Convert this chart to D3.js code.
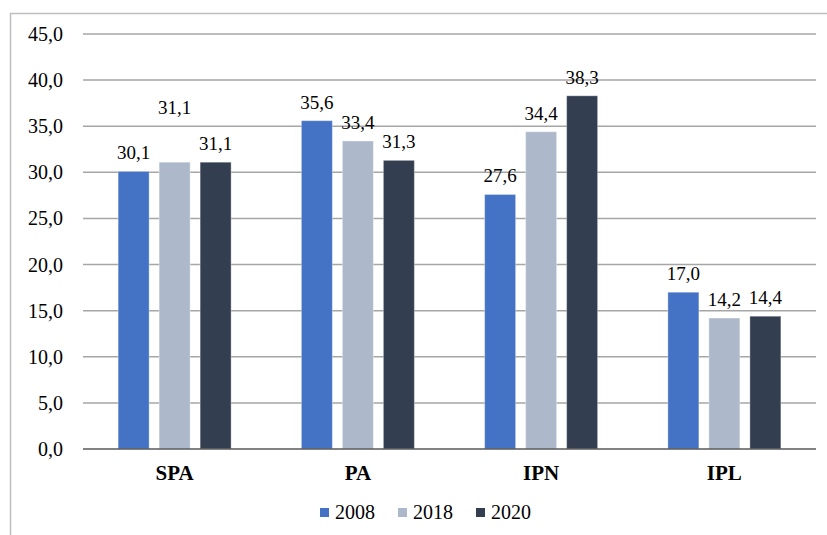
<!DOCTYPE html>
<html>
<head>
<meta charset="utf-8">
<script src="https://cdn.jsdelivr.net/npm/d3@7/dist/d3.min.js"></script>
<style>
  html, body { margin: 0; padding: 0; background: #fff; }
  svg { display: block; }
  text { font-family: "Liberation Serif", "Times New Roman", serif; fill: #000; }
</style>
</head>
<body>
<svg id="chart" width="827" height="535"></svg>
<script>
const categories = ["SPA", "PA", "IPN", "IPL"];
const seriesNames = ["2008", "2018", "2020"];
const values2008 = [30.1, 35.6, 27.6, 17.0];
const values2018 = [31.1, 33.4, 34.4, 14.2];
const values2020 = [31.1, 31.3, 38.3, 14.4];
const yTicks = [0, 5, 10, 15, 20, 25, 30, 35, 40, 45];
const colors = ["#4472C4", "#ADB9CA", "#333F50"];

const seriesValues = [values2008, values2018, values2020];
const fmt = v => v.toFixed(1).replace(".", ",");

const svg = d3.select("#chart");

// chart border (clipped by the picture on right and bottom)
svg.append("rect")
  .attr("x", 10.5).attr("y", 13.5)
  .attr("width", 840).attr("height", 540)
  .attr("fill", "none").attr("stroke", "#bfbfbf").attr("stroke-width", 1.5);

const plot = { left: 83, right: 816, top: 34, bottom: 449 };

const x = d3.scaleBand().domain(categories).range([plot.left, plot.right]).paddingInner(0).paddingOuter(0);
const xs = d3.scaleBand().domain(seriesNames).range([0, x.bandwidth()]).paddingInner(0.244).paddingOuter(0.857);
const y = d3.scaleLinear().domain([0, 45]).range([plot.bottom, plot.top]);

// gridlines
svg.append("g").selectAll("line").data(yTicks.filter(t => t > 0)).join("line")
  .attr("x1", plot.left).attr("x2", plot.right)
  .attr("y1", d => y(d)).attr("y2", d => y(d))
  .attr("stroke", "#a6a6a6").attr("stroke-width", 1.5);

// y tick labels
svg.append("g").selectAll("text").data(yTicks).join("text")
  .attr("x", 63).attr("y", d => y(d))
  .attr("dy", "0.35em")
  .attr("text-anchor", "end")
  .attr("font-size", 20)
  .text(d => fmt(d));

// bars
const groups = svg.append("g").selectAll("g").data(seriesNames).join("g")
  .attr("fill", (d, i) => colors[i]);

groups.each(function(s, si) {
  d3.select(this).selectAll("rect").data(seriesValues[si]).join("rect")
    .attr("x", (d, ci) => x(categories[ci]) + xs(s))
    .attr("width", xs.bandwidth())
    .attr("y", d => y(d))
    .attr("height", d => y(0) - y(d))
    .attr("stroke", "#ffffff").attr("stroke-opacity", 0.35).attr("stroke-width", 1);
});

// zero axis line
svg.append("line")
  .attr("x1", plot.left).attr("x2", plot.right)
  .attr("y1", y(0)).attr("y2", y(0))
  .attr("stroke", "#595959").attr("stroke-width", 1.5);

// data labels
const labelShift = (si, ci) => (si === 1 && ci === 0) ? -36 : 0;
seriesNames.forEach((s, si) => {
  svg.append("g").selectAll("text").data(seriesValues[si]).join("text")
    .attr("x", (d, ci) => x(categories[ci]) + xs(s) + xs.bandwidth() / 2)
    .attr("y", (d, ci) => y(d) - 12 + labelShift(si, ci))
    .attr("text-anchor", "middle")
    .attr("font-size", 19)
    .text(d => fmt(d));
});

// category labels
svg.append("g").selectAll("text").data(categories).join("text")
  .attr("x", d => x(d) + x.bandwidth() / 2)
  .attr("y", 480)
  .attr("text-anchor", "middle")
  .attr("font-size", 21)
  .attr("font-weight", "bold")
  .text(d => d);

// legend
const legendX = [320, 398, 476];
const legend = svg.append("g").selectAll("g").data(seriesNames).join("g")
  .attr("transform", (d, i) => `translate(${legendX[i]},0)`);
legend.append("rect")
  .attr("x", 0).attr("y", 508).attr("width", 9).attr("height", 9)
  .attr("fill", (d, i) => colors[i]);
legend.append("text")
  .attr("x", 15).attr("y", 519)
  .attr("font-size", 20)
  .text(d => d);
</script>
</body>
</html>
